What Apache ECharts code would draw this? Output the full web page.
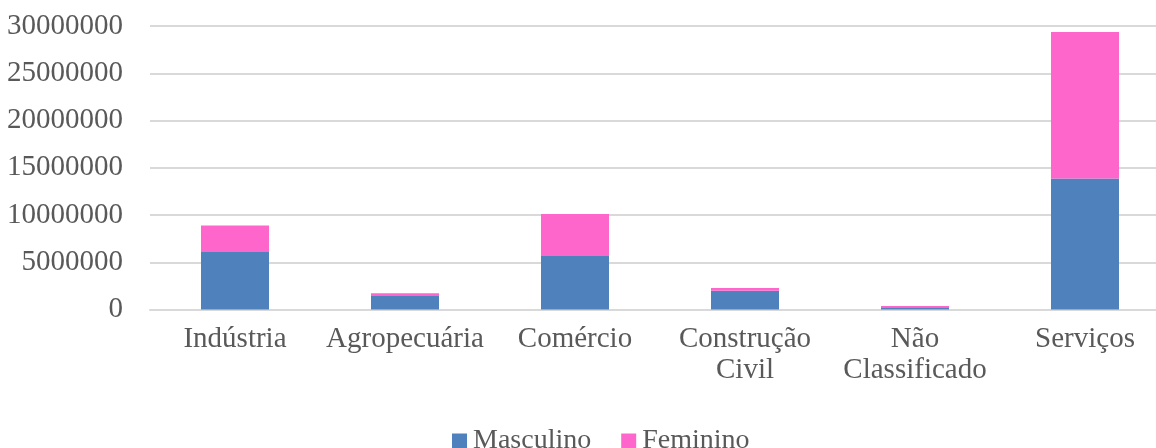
<!DOCTYPE html>
<html>
<head>
<meta charset="utf-8">
<script src="https://cdn.jsdelivr.net/npm/echarts@6/dist/echarts.min.js"></script>
<style>
  html, body { margin: 0; padding: 0; background: #fff; }
  #chart { width: 1156px; height: 448px; }
</style>
</head>
<body>
<div id="chart"></div>
<script>
  // categorias do eixo x
  var setores = ['Indústria', 'Agropecuária', 'Comércio', 'Construção\nCivil', 'Não\nClassificado', 'Serviços']
  // valores
  var masculino = [6080000, 1430000, 5660000, 1990000, 250000, 13870000]
  var feminino = [2820000, 280000, 4440000, 280000, 120000, 15500000]
  var yTicks = [0, 5000000, 10000000, 15000000, 20000000, 25000000, 30000000]

  var fonte = '"Liberation Serif", "Times New Roman", serif'
  var cinza = '#595959'

  var chart = echarts.init(document.getElementById('chart'))
  chart.setOption({
    animation: false,
    textStyle: { fontFamily: fonte },
    legend: {
      data: ['Masculino', 'Feminino'],
      left: 447,
      top: 422,
      itemWidth: 15,
      itemHeight: 15,
      itemGap: 30,
      icon: 'rect',
      textStyle: { fontFamily: fonte, fontSize: 28, color: cinza, padding: [0, 0, 0, 1] }
    },
    grid: { left: 150, top: 26, width: 1020, height: 283.5, containLabel: false, outerBoundsMode: 'none' },
    xAxis: {
      type: 'category',
      data: setores,
      axisTick: { show: false },
      axisLine: { lineStyle: { color: '#d9d9d9', width: 2 } },
      axisLabel: {
        fontFamily: fonte, fontSize: 29, color: cinza,
        margin: 14, lineHeight: 31, interval: 0
      }
    },
    yAxis: {
      type: 'value',
      min: yTicks[0],
      max: yTicks[yTicks.length - 1],
      interval: 5000000,
      axisLine: { show: false },
      axisTick: { show: false },
      splitLine: { lineStyle: { color: '#d9d9d9', width: 2 } },
      axisLabel: {
        fontFamily: fonte, fontSize: 29, color: cinza, margin: 27,
        formatter: function (v) { return String(v) }
      }
    },
    series: [
      {
        name: 'Masculino', type: 'bar', stack: 'total',
        data: masculino, barWidth: 68,
        itemStyle: { color: '#4f81bd' }
      },
      {
        name: 'Feminino', type: 'bar', stack: 'total',
        data: feminino, barWidth: 68,
        itemStyle: { color: '#ff66cc' }
      }
    ]
  })
</script>
</body>
</html>
